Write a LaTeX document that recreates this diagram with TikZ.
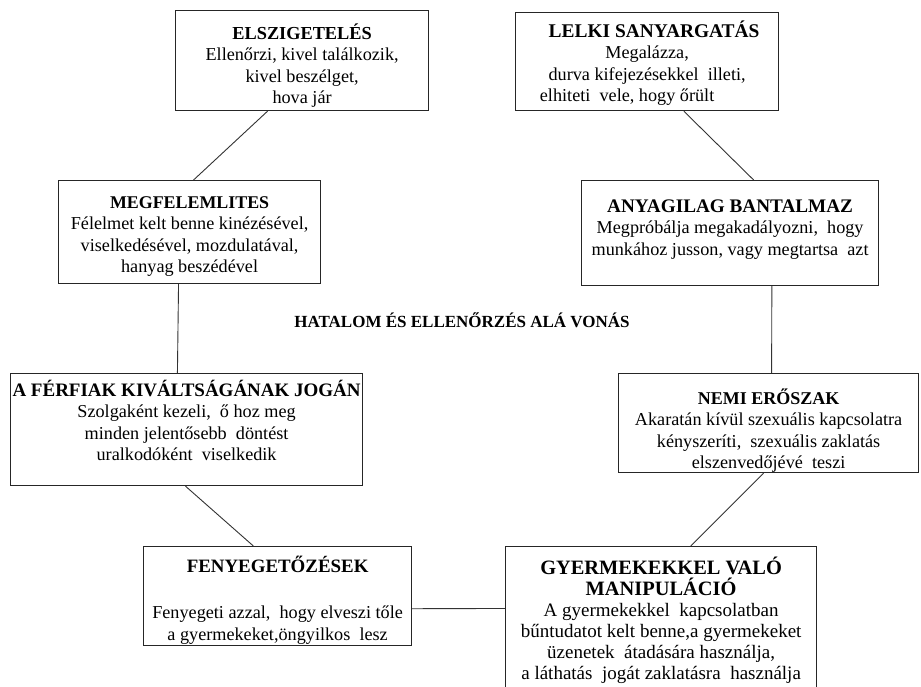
\documentclass[tikz,border=0pt]{standalone}
\usepackage{fontspec}
\setmainfont{Liberation Serif}
\usetikzlibrary{calc}
\newcommand{\fst}{\rule{0pt}{18pt}}
\newcommand{\hd}[2]{{\fontsize{#1}{21.5}\selectfont\bfseries #2}}
\begin{document}
\begin{tikzpicture}[x=1pt,y=-1pt,
  box/.style={draw=black!85,line width=1.2pt,rectangle,inner sep=0pt,anchor=north west},
  txt/.style={anchor=north,align=center,inner sep=0pt,font=\fontsize{18.2}{21.5}\selectfont},
  conn/.style={draw=black!80,line width=0.9pt}]
\clip (0,0) rectangle (921,687);
\fill[white] (0,0) rectangle (921,687);
% boxes
\node[box,minimum width=253pt,minimum height=100pt,
  label={[txt,yshift=-11pt]north:{\fst\hd{18.3}{ELSZIGETELÉS}\\Ellenőrzi, kivel találkozik,\\kivel beszélget,\\hova jár}}] (b1) at (175,10) {};
\node[box,minimum width=263pt,minimum height=98pt,
  label={[txt,yshift=-7pt]north:{\fst\hspace*{14pt}\hd{19.4}{LELKI SANYARGATÁS}\\Megalázza,\\durva kifejezésekkel\ \ illeti,\\elhiteti\ \ vele, hogy őrült\hspace*{40pt}}}] (b8) at (515,12) {};
\node[box,minimum width=262pt,minimum height=103pt,
  label={[txt,yshift=-10pt]north:{\fst\hd{17.9}{MEGFELEMLITES}\\Félelmet kelt benne kinézésével,\\viselkedésével, mozdulatával,\hspace*{20pt}\\hanyag beszédével}}] (b2) at (58,180) {};
\node[box,minimum width=297pt,minimum height=105pt,
  label={[txt,yshift=-14pt]north:{\fst\hd{19.2}{ANYAGILAG BANTALMAZ}\\Megpróbálja megakadályozni,\ \ hogy\\munkához jusson, vagy megtartsa\ \ azt}}] (b7) at (581,180) {};
\node[box,minimum width=352pt,minimum height=112pt,
  label={[txt,yshift=-5pt]north:{\fst\hd{19}{A FÉRFIAK KIVÁLTSÁGÁNAK JOGÁN}\\Szolgaként kezeli,\ \ ő hoz meg\\minden jelentősebb\ \ döntést\\uralkodóként\ \ viselkedik}}] (b3) at (10,373) {};
\node[box,minimum width=300pt,minimum height=99pt,
  label={[txt,yshift=-13pt]north:{\fst\hd{18}{NEMI ERŐSZAK}\\Akaratán kívül szexuális kapcsolatra\\kényszeríti,\ \ szexuális zaklatás\hspace*{24pt}\\elszenvedőjévé\ \ teszi}}] (b6) at (618,373) {};
\node[box,minimum width=268pt,minimum height=99pt,
  label={[txt,yshift=-8pt]north:{\fst\hd{18.9}{FENYEGETŐZÉSEK}\\[25pt]Fenyegeti azzal,\ \ hogy elveszi tőle\\a gyermekeket,öngyilkos\ \ lesz}}] (b4) at (143,546) {};
\node[box,minimum width=311pt,minimum height=160pt,
  label={[txt,yshift=-10pt,font=\fontsize{19}{21}\selectfont]north:{\fst\hd{20.4}{GYERMEKEKKEL VALÓ}\\\hd{20.4}{MANIPULÁCIÓ}\\A gyermekekkel\ \ kapcsolatban\\bűntudatot kelt benne,a gyermekeket\\üzenetek\ \ átadására használja,\\a láthatás\ \ jogát zaklatásra\ \ használja}}] (b5) at (505,546) {};
% center title
\node[anchor=base,inner sep=0pt,font=\fontsize{17}{21.5}\selectfont\bfseries] (title) at (462,327) {HATALOM ÉS ELLENŐRZÉS ALÁ VONÁS};
% connectors
\draw[conn] ($(b1.south west)!0.364!(b1.south east)$) -- ($(b2.north west)!0.515!(b2.north east)$);
\draw[conn] ($(b2.south west)!0.458!(b2.south east)$) -- ($(b3.north west)!0.474!(b3.north east)$);
\draw[conn] ($(b3.south west)!0.497!(b3.south east)$) -- ($(b4.north west)!0.41!(b4.north east)$);
\draw[conn] ($(b4.north east)!0.626!(b4.south east)$) -- ($(b5.north west)!0.3875!(b5.south west)$);
\draw[conn] ($(b5.north west)!0.595!(b5.north east)$) -- ($(b6.south west)!0.483!(b6.south east)$);
\draw[conn] ($(b6.north west)!0.51!(b6.north east)$) -- ($(b7.south west)!0.64!(b7.south east)$);
\draw[conn] ($(b7.north west)!0.579!(b7.north east)$) -- ($(b8.south west)!0.639!(b8.south east)$);
\end{tikzpicture}
\end{document}
